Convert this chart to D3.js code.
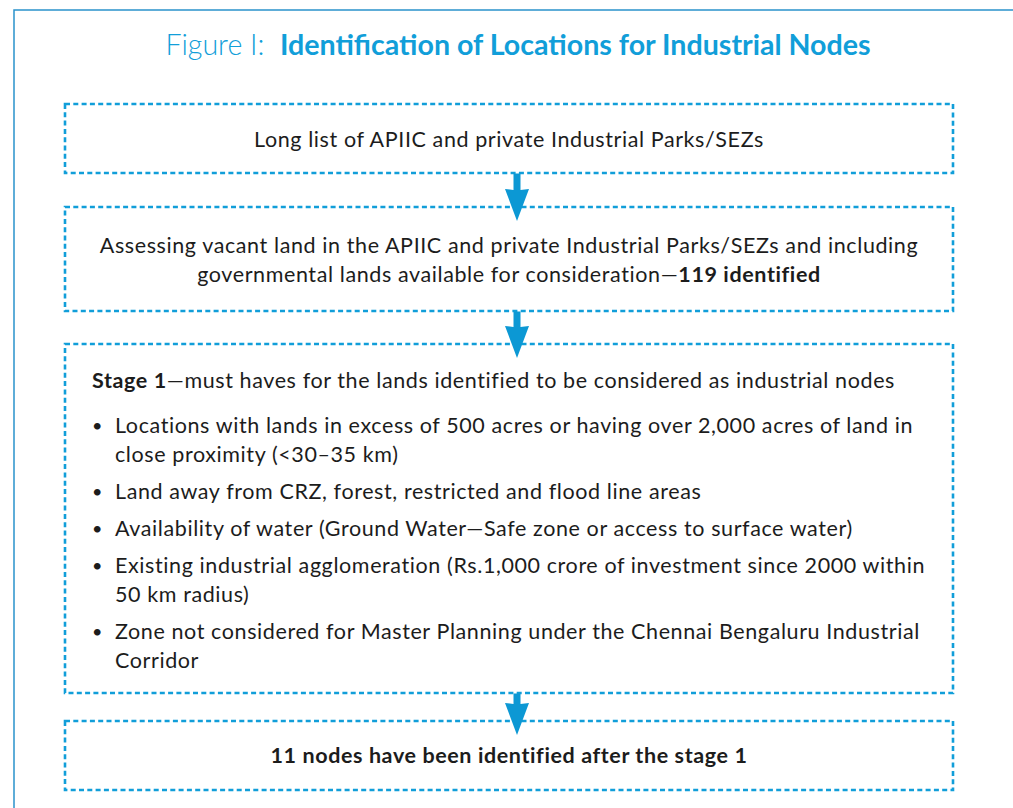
<!DOCTYPE html>
<html>
<head>
<meta charset="utf-8">
<script src="https://cdn.jsdelivr.net/npm/d3@7"></script>
<style>
  html, body { margin: 0; padding: 0; background: #fff; }
  svg text { font-family: Lato, "Open Sans", sans-serif; white-space: pre; }
  .body { letter-spacing: 0.6px; }
</style>
</head>
<body>
<svg id="chart"></svg>
<script>
// text of the figure, [text, bold]
const titleParts = [["Figure I:  ", false], ["Identification of Locations for Industrial Nodes", true]];
const listText = [[["Long list of APIIC and private Industrial Parks/SEZs", false]]];
const vacantText = [
  [["Assessing vacant land in the APIIC and private Industrial Parks/SEZs and including", false]],
  [["governmental lands available for consideration—", false], ["119 identified", true]]
];
const stageHeading = [["Stage 1", true], ["—must haves for the lands identified to be considered as industrial nodes", false]];
const criteria = [
  ["Locations with lands in excess of 500 acres or having over 2,000 acres of land in", "close proximity (<30–35 km)"],
  ["Land away from CRZ, forest, restricted and flood line areas"],
  ["Availability of water (Ground Water—Safe zone or access to surface water)"],
  ["Existing industrial agglomeration (Rs.1,000 crore of investment since 2000 within", "50 km radius)"],
  ["Zone not considered for Master Planning under the Chennai Bengaluru Industrial", "Corridor"]
];
const resultText = [[["11 nodes have been identified after the stage 1", true]]];

const width = 1013, height = 808;
const blue = "#119ed9";
const ink = "#1c1c1c";
const fontSize = 21.5;

const svg = d3.select("#chart")
  .attr("width", width)
  .attr("height", height);

// outer frame (only top and left visible)
svg.append("path")
  .attr("d", `M14,${height} V10 H${width}`)
  .attr("fill", "none")
  .attr("stroke", "#2a93cc")
  .attr("stroke-width", 1.5);

// title
const title = svg.append("text")
  .attr("x", 518)
  .attr("y", 55)
  .attr("text-anchor", "middle")
  .attr("fill", blue)
  .attr("font-size", 28.6);
title.selectAll("tspan")
  .data(titleParts)
  .join("tspan")
  .attr("font-weight", d => d[1] ? 700 : 300)
  .text(d => d[0]);

// boxes
const boxX0 = 65, boxX1 = 953;
const boxes = [
  { y0: 104, y1: 173 },
  { y0: 207, y1: 311 },
  { y0: 344, y1: 693 },
  { y0: 721, y1: 790 }
];

svg.append("g").selectAll("rect")
  .data(boxes)
  .join("rect")
  .attr("x", boxX0)
  .attr("y", d => d.y0)
  .attr("width", boxX1 - boxX0)
  .attr("height", d => d.y1 - d.y0)
  .attr("fill", "none")
  .attr("stroke", blue)
  .attr("stroke-width", 2.6)
  .attr("stroke-dasharray", "5 3.3");

// arrows between boxes
const arrowX = 517;
const arrow = svg.append("g").attr("fill", "#0c98d4");
boxes.slice(0, -1).forEach((b, i) => {
  const top = b.y1 + 0.5;
  const tip = boxes[i + 1].y0 + 14;
  const base = tip - 31;
  arrow.append("path")
    .attr("d", `M${arrowX - 3.5},${top} H${arrowX + 3.5} V${base} L${arrowX + 12},${base - 1} L${arrowX},${tip} L${arrowX - 12},${base - 1} L${arrowX - 3.5},${base} Z`);
});

// helper: a line of mixed bold/regular text
function addLine(g, parts, x, y, anchor) {
  const t = g.append("text")
    .attr("class", "body")
    .attr("x", x)
    .attr("y", y)
    .attr("text-anchor", anchor)
    .attr("fill", ink)
    .attr("font-size", fontSize);
  t.selectAll("tspan")
    .data(parts)
    .join("tspan")
    .attr("font-weight", d => d[1] ? 700 : 400)
    .text(d => d[0]);
  return t;
}

const centreX = (boxX0 + boxX1) / 2;
const textG = svg.append("g");

listText.forEach((l, i) => addLine(textG, l, centreX, 147 + i * 29, "middle"));
vacantText.forEach((l, i) => addLine(textG, l, centreX, 253 + i * 29, "middle"));
resultText.forEach((l, i) => addLine(textG, l, centreX, 763 + i * 29, "middle"));

// stage 1 block
addLine(textG, stageHeading, 92, 388, "start");

const lineH = 29, itemGap = 37;
let y = 433;
criteria.forEach(item => {
  textG.append("text")
    .attr("x", 92)
    .attr("y", y - 1)
    .attr("fill", ink)
    .attr("font-size", 18)
    .text("•");
  item.forEach((line, j) => {
    addLine(textG, [[line, false]], 115, y + j * lineH, "start");
  });
  y += (item.length - 1) * lineH + itemGap;
});
</script>
</body>
</html>
